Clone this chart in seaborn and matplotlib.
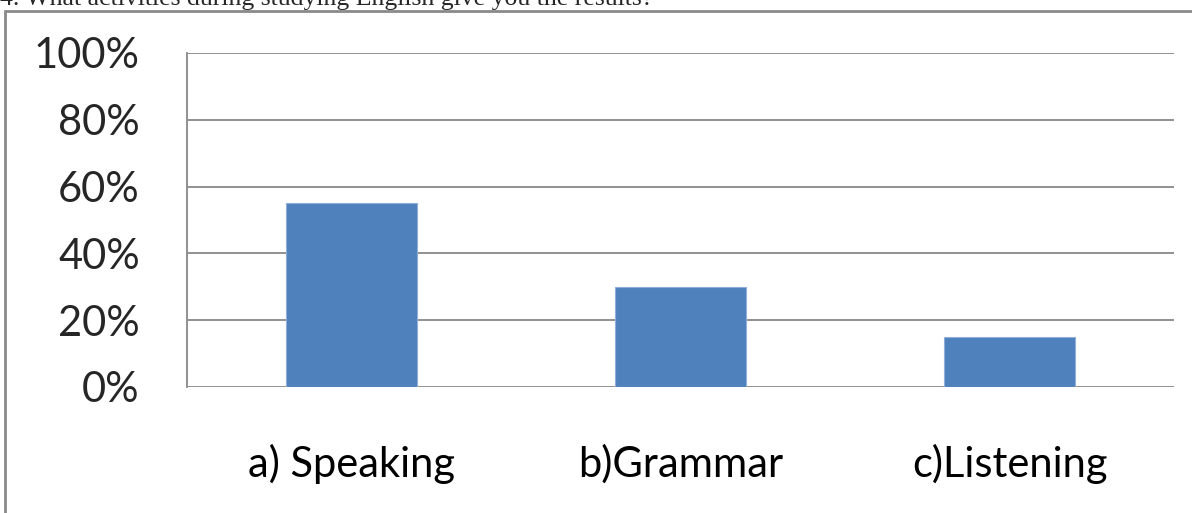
import matplotlib
matplotlib.use('Agg')
import matplotlib.pyplot as plt
import matplotlib.patches as mpatches
from matplotlib.ticker import FixedLocator, PercentFormatter
import seaborn as sns
import pandas as pd

# datos
categorias = ['a) Speaking', 'b)Grammar', 'c)Listening']
porcentajes = [55, 30, 15]
ticks_y = [0, 20, 40, 60, 80, 100]
titulo = '4. What activities during studying English give you the results?'

df = pd.DataFrame({'actividad': categorias, 'pct': porcentajes})

sns.set_style('white')
plt.rcParams['font.family'] = ['Lato', 'DejaVu Sans']

fig = plt.figure(figsize=(11.92, 5.13), dpi=100)
ax = fig.add_axes([187 / 1192, 126 / 513, 987 / 1192, 334 / 513])

sns.barplot(data=df, x='actividad', y='pct', color='#4F81BD', width=0.4,
            saturation=1, edgecolor='#8FAFD8', linewidth=0.8, ax=ax, zorder=3)

gris = '#888888'
ax.set_xlim(-0.5, 2.5)
ax.set_ylim(0, 100)
ax.yaxis.set_major_locator(FixedLocator(ticks_y))
ax.yaxis.set_major_formatter(PercentFormatter(decimals=0))
ax.grid(axis='y', color=gris, linewidth=1.3, zorder=0)
ax.set_axisbelow(True)

for lado in ['top', 'right', 'bottom']:
    ax.spines[lado].set_visible(False)
ax.spines['left'].set_color(gris)
ax.spines['left'].set_linewidth(1.3)

# marcas entre categorías
ax.set_xticks([-0.5, 0.5, 1.5, 2.5], minor=True)
ax.tick_params(axis='x', which='minor', length=12, width=1.3, color=gris, direction='out')
ax.tick_params(axis='x', which='major', length=0, pad=41, labelsize=30, labelcolor='black')
ax.tick_params(axis='y', length=12, width=1.3, color=gris, pad=22, labelsize=30)
ax.set_xlabel('')
ax.set_ylabel('')

# marco del gráfico y texto de la pregunta
marco = mpatches.Rectangle((5 / 1192, -0.1), 1.2, (513 - 11) / 513 + 0.1,
                           transform=fig.transFigure, fill=False,
                           edgecolor='#8A8A8A', linewidth=2)
fig.patches.append(marco)
fig.text(0.0, (513 - 5) / 513, titulo, family='Liberation Serif', fontsize=18.5,
         va='baseline', ha='left')

fig.savefig('out.png', dpi=100)
